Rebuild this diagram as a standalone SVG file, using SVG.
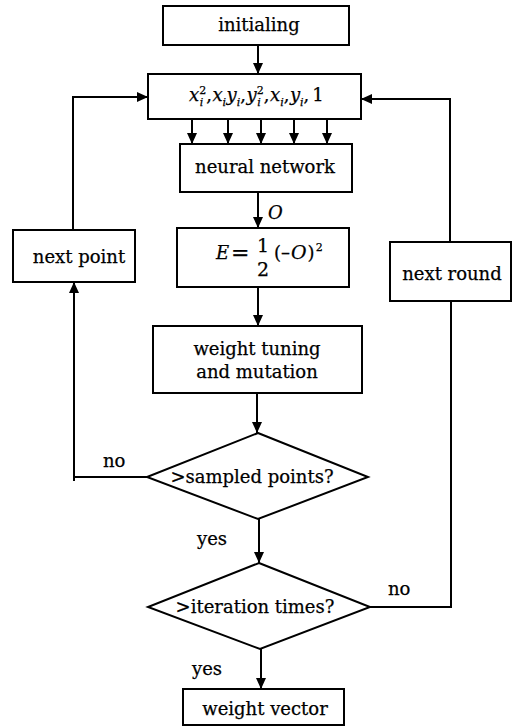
<svg xmlns="http://www.w3.org/2000/svg" width="521" height="726" viewBox="0 0 521 726">
<defs>
<marker id="ah" markerUnits="userSpaceOnUse" markerWidth="12" markerHeight="10" refX="11" refY="5" orient="auto">
<path d="M0,0 L11,5 L0,10 Z" fill="#000"/>
</marker>
</defs>
<style>
.box{fill:#fff;stroke:#000;stroke-width:2}
.ln{fill:none;stroke:#000;stroke-width:2}
.ar{fill:none;stroke:#000;stroke-width:2;marker-end:url(#ah)}
text{font-family:"DejaVu Serif","Liberation Serif",serif;font-size:18px;fill:#000;stroke:#000;stroke-width:0.25}
.c{text-anchor:middle}
.it{font-style:italic}
.s{font-size:11px}
</style>
<rect width="521" height="726" fill="#fff"/>
<g id="connectors">
<path class="ar" d="M258,45 V74"/>
<path class="ar" d="M192,119 V144"/>
<path class="ar" d="M228,119 V144"/>
<path class="ar" d="M261,119 V144"/>
<path class="ar" d="M294,119 V144"/>
<path class="ar" d="M327,119 V144"/>
<path class="ar" d="M258,192 V228"/>
<path class="ar" d="M258,287 V326"/>
<path class="ar" d="M257,393 V433"/>
<path class="ar" d="M259,519 V563"/>
<path class="ar" d="M261,649 V689"/>
<path class="ar" d="M147,477 H74 V282"/>
<path class="ln" d="M74,477 V481"/>
<path class="ar" d="M73,230 V97 H148"/>
<path class="ln" d="M370,607 H451 V301"/>
<path class="ar" d="M450,242 V99 H361"/>
<text x="268" y="219" class="it">O</text>
<text x="103" y="467">no</text>
<text x="388" y="595">no</text>
<text x="197" y="545">yes</text>
<text x="192" y="675">yes</text>
</g>
<g id="initialing">
<rect class="box" x="163" y="6" width="186" height="39"/>
<text x="259" y="31" class="c">initialing</text>
</g>
<g id="inputs">
<rect class="box" x="148" y="74" width="213" height="45"/>
<text x="189" y="101"><tspan class="it">x</tspan><tspan class="s" dy="-7">2</tspan><tspan class="s it" dx="-6.5" dy="12">i</tspan><tspan dx="3" dy="-5">,</tspan><tspan class="it" dx="0.5">x</tspan><tspan class="s it" dy="5">i</tspan><tspan class="it" dx="0.5" dy="-5">y</tspan><tspan class="s it" dy="5">i</tspan><tspan dy="-5">,</tspan><tspan class="it" dx="0.5">y</tspan><tspan class="s" dy="-7">2</tspan><tspan class="s it" dx="-6.5" dy="12">i</tspan><tspan dx="3" dy="-5">,</tspan><tspan class="it" dx="0.5">x</tspan><tspan class="s it" dy="5">i</tspan><tspan dy="-5">,</tspan><tspan class="it" dx="0.5">y</tspan><tspan class="s it" dy="5">i</tspan><tspan dy="-5">,</tspan><tspan dx="3">1</tspan></text>
</g>
<g id="neural-network">
<rect class="box" x="180" y="144" width="172" height="48"/>
<text x="265" y="173" class="c">neural network</text>
</g>
<g id="error">
<rect class="box" x="177" y="228" width="172" height="59"/>
<text x="216" y="259" class="it">E</text>
<text x="231" y="260" style="font-size:22px">=</text>
<text x="257" y="252" style="font-size:19px">1</text>
<text x="257" y="276" style="font-size:19px">2</text>
<text x="274" y="259"><tspan>(–</tspan><tspan class="it" dx="1" style="font-size:19px">O</tspan><tspan dx="1">)</tspan><tspan class="s" dx="1" dy="-8">2</tspan></text>
</g>
<g id="weight-tuning">
<rect class="box" x="153" y="326" width="209" height="67"/>
<text x="257" y="355" class="c">weight tuning</text>
<text x="257" y="378" class="c">and mutation</text>
</g>
<g id="next-point">
<rect class="box" x="13" y="230" width="122" height="52"/>
<text x="79" y="263" class="c">next point</text>
</g>
<g id="next-round">
<rect class="box" x="390" y="242" width="121" height="59"/>
<text x="452" y="280" class="c">next round</text>
</g>
<g id="sampled-points">
<path class="box" d="M258,433 L368,477 L258,519 L147,477 Z"/>
<text x="252" y="483" class="c">&gt;sampled points?</text>
</g>
<g id="iteration-times">
<path class="box" d="M259,563 L370,607 L260,649 L148,607 Z"/>
<text x="255" y="613" class="c">&gt;iteration times?</text>
</g>
<g id="weight-vector">
<rect class="box" x="183" y="689" width="161" height="36"/>
<text x="265" y="715" class="c">weight vector</text>
</g>
</svg>
